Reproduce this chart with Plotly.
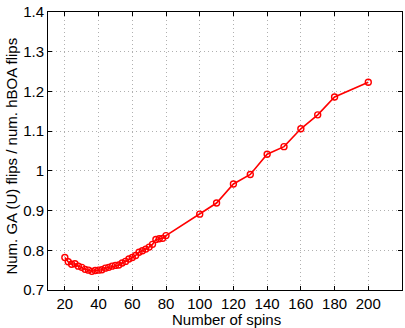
import plotly.graph_objects as go

spins = [20, 22, 24, 26, 28, 30, 32, 34, 36, 38, 40, 42, 44, 46, 48, 50,
         52, 54, 56, 58, 60, 62, 64, 66, 68, 70, 72, 74, 76, 78, 80,
         100, 110, 120, 130, 140, 150, 160, 170, 180, 200]
ratio = [0.782, 0.771, 0.765, 0.766, 0.760, 0.757, 0.752, 0.750, 0.747, 0.749,
         0.750, 0.751, 0.755, 0.757, 0.760, 0.762, 0.763, 0.768, 0.772, 0.778,
         0.782, 0.787, 0.795, 0.799, 0.803, 0.808, 0.815, 0.827, 0.829, 0.830,
         0.837, 0.891, 0.919, 0.967, 0.991, 1.042, 1.061, 1.106, 1.141, 1.186,
         1.223]
x_ticks = [20, 40, 60, 80, 100, 120, 140, 160, 180, 200]
y_ticks = [0.7, 0.8, 0.9, 1.0, 1.1, 1.2, 1.3, 1.4]
y_tick_text = ["0.7", "0.8", "0.9", "1", "1.1", "1.2", "1.3", "1.4"]
x_title = "Number of spins"
y_title = "Num. GA (U) flips / num. hBOA flips"

FONT = "Liberation Sans, Arial, sans-serif"

W, H = 405, 328
L, R, T, B = 48, 3, 12, 38
pw, ph = W - L - R, H - T - B

fig = go.Figure()
fig.add_trace(go.Scatter(
    x=spins, y=ratio, mode="lines+markers",
    line=dict(color="#ff0000", width=1.6),
    marker=dict(symbol="circle-open", size=6, color="#ff0000", line=dict(width=1.4)),
    showlegend=False,
))

axis_common = dict(
    showline=True, linecolor="black", linewidth=1, mirror="ticks",
    ticks="inside", ticklen=4, tickcolor="black",
    showgrid=True, gridcolor="#b0b0b0", griddash="1px,3px", gridwidth=1,
    zeroline=False,
    tickfont=dict(family=FONT, size=15, color="black"),
)

fig.update_xaxes(range=[10, 220], tickvals=x_ticks, ticktext=[str(v) for v in x_ticks],
                 **axis_common)
fig.update_yaxes(range=[0.7, 1.4], tickvals=y_ticks, ticktext=y_tick_text,
                 **axis_common)

fig.add_annotation(text=x_title, xref="paper", yref="paper",
                   x=(227 - L) / pw, y=-(319 - (H - B)) / ph,
                   xanchor="center", yanchor="middle", showarrow=False,
                   font=dict(family=FONT, size=15, color="black"))
fig.add_annotation(text=y_title, xref="paper", yref="paper",
                   x=(12 - L) / pw, y=0.48, textangle=-90,
                   xanchor="center", yanchor="middle", showarrow=False,
                   font=dict(family=FONT, size=15, color="black"))

fig.update_layout(
    width=W, height=H,
    margin=dict(l=L, r=R, t=T, b=B),
    plot_bgcolor="white", paper_bgcolor="white",
)

fig.write_html("out.html", config={"displayModeBar": False},
               post_script="document.body.style.margin='0';document.body.style.overflow='hidden';")
